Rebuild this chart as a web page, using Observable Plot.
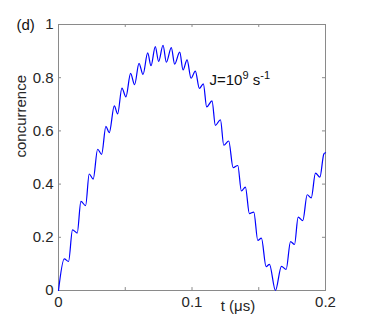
<!DOCTYPE html>
<html><head><meta charset="utf-8">
<script src="https://cdn.jsdelivr.net/npm/d3@7"></script>
<script src="https://cdn.jsdelivr.net/npm/@observablehq/plot@0.6"></script>
<style>body{margin:0;background:#fff} svg{display:block}</style>
</head><body><div id="chart"></div>
<script>
// time in microseconds
const time = [
  0, 0.0043, 0.0075, 0.0105, 0.014, 0.0168, 0.0203, 0.023, 0.026, 0.0293, 0.0323,
  0.0355, 0.038, 0.0418, 0.0443, 0.0475, 0.0505, 0.054, 0.057, 0.0603, 0.0633,
  0.0668, 0.0693, 0.0725, 0.075, 0.0783, 0.0808, 0.0845, 0.087, 0.0908, 0.0933,
  0.0963, 0.0993, 0.1025, 0.1055, 0.1085, 0.111, 0.115, 0.1175, 0.1213, 0.1238,
  0.1275, 0.1308, 0.1343, 0.137, 0.140, 0.143, 0.1463, 0.1493, 0.152, 0.1555,
  0.158, 0.1625, 0.167, 0.1705, 0.1738, 0.1768, 0.1795, 0.183, 0.1863, 0.1893,
  0.1925, 0.1958, 0.1988, 0.2
];
const concurrence = [
  0, 0.119, 0.109, 0.228, 0.216, 0.335, 0.319, 0.438, 0.419, 0.531, 0.512,
  0.617, 0.593, 0.694, 0.664, 0.761, 0.728, 0.816, 0.774, 0.854, 0.812,
  0.893, 0.845, 0.917, 0.861, 0.922, 0.858, 0.913, 0.851, 0.896, 0.829,
  0.867, 0.798, 0.825, 0.760, 0.777, 0.690, 0.713, 0.621, 0.642, 0.546,
  0.562, 0.462, 0.470, 0.374, 0.389, 0.289, 0.295, 0.188, 0.197, 0.090,
  0.098, 0, 0.091, 0.079, 0.184, 0.173, 0.276, 0.263, 0.360, 0.348,
  0.441, 0.426, 0.514, 0.518
];
const xTicks = [0, 0.05, 0.1, 0.15, 0.2];
const xTickLabels = [0, 0.1, 0.2];
const yTicks = [0, 0.2, 0.4, 0.6, 0.8, 1];
const panelLabel = "(d)";
const xLabel = "t (\u03BCs)";
const yLabel = "concurrence";
const annotationParts = ["J=10", "9", " s", "-1"];

const data = time.map((t, i) => ({t, c: concurrence[i]}));
const axisColor = "#8a8a8a";
const textColor = "#262626";
const tickLenY = 0.011;   // ~3px in y data units
const tickLenX = 0.00225; // ~3px in x data units

const chart = Plot.plot({
  width: 371,
  height: 327,
  marginLeft: 58,
  marginRight: 46,
  marginTop: 24,
  marginBottom: 37,
  style: {fontFamily: "'Liberation Sans', Arial, sans-serif", fontSize: "15px", color: textColor, background: "#fff"},
  x: {domain: [0, 0.2]},
  y: {domain: [0, 1]},
  marks: [
    Plot.ruleX(xTicks, {x: d => d, y1: 0, y2: tickLenY, stroke: axisColor}),
    Plot.ruleX(xTicks, {x: d => d, y1: 1, y2: 1 - tickLenY, stroke: axisColor}),
    Plot.ruleY(yTicks, {y: d => d, x1: 0, x2: tickLenX, stroke: axisColor}),
    Plot.ruleY(yTicks, {y: d => d, x1: 0.2, x2: 0.2 - tickLenX, stroke: axisColor}),
    Plot.frame({stroke: axisColor}),
    Plot.axisX(xTickLabels, {tickSize: 0, tickPadding: 6, tickFormat: d => String(d), label: null, fill: textColor}),
    Plot.axisY(yTicks, {tickSize: 0, tickPadding: 5, tickFormat: d => String(d), label: null, fill: textColor}),
    Plot.line(data, {x: "t", y: "c", stroke: "#0000ff", strokeWidth: 1.2, curve: "monotone-x"}),
    Plot.text([xLabel], {text: d => d, frameAnchor: "bottom", dx: 46, dy: 20, fontSize: 15, fill: textColor}),
    Plot.text([yLabel], {text: d => d, frameAnchor: "left", rotate: -90, dx: -37, fontSize: 15, fill: textColor}),
    Plot.text([panelLabel], {text: d => d, frameAnchor: "top-left", textAnchor: "start", dx: -42, dy: -5, fontSize: 15, fill: "#111"}),
    Plot.text([annotationParts.join("")], {text: d => d, frameAnchor: "top-left", textAnchor: "start", dx: 151, dy: 50, fontSize: 15, fill: "#111", className: "annot"})
  ]
});
document.getElementById("chart").appendChild(chart);

// rebuild annotation with superscripts
const t = chart.querySelector("g.annot text");
if (t) {
  t.textContent = "";
  const ns = "http://www.w3.org/2000/svg";
  const parts = [
    {s: annotationParts[0], dy: 0, fs: null},
    {s: annotationParts[1], dy: -6, fs: 11},
    {s: annotationParts[2], dy: 6, fs: null},
    {s: annotationParts[3], dy: -6, fs: 11}
  ];
  for (const p of parts) {
    const ts = document.createElementNS(ns, "tspan");
    ts.textContent = p.s;
    if (p.dy) ts.setAttribute("dy", p.dy);
    if (p.fs) ts.setAttribute("font-size", p.fs);
    t.appendChild(ts);
  }
}
</script>
</body></html>
